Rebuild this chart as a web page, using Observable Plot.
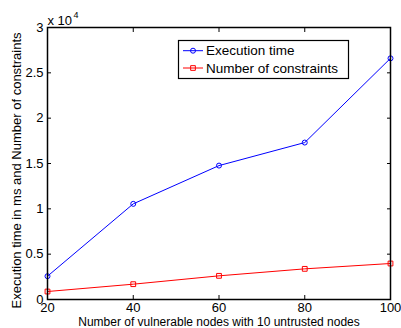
<!DOCTYPE html>
<html><head><meta charset="utf-8">
<script src="https://cdn.jsdelivr.net/npm/d3@7"></script>
<script src="https://cdn.jsdelivr.net/npm/@observablehq/plot@0.6"></script>
<style>
html,body{margin:0;padding:0;background:#fff;}
#chart svg{display:block;}
</style></head><body><div id="chart"></div>
<script>
const nodes = [20, 40, 60, 80, 100];
const executionTime = [2570, 10550, 14770, 17310, 26600];
const numConstraints = [880, 1690, 2610, 3380, 3970];
const xTicks = [20, 40, 60, 80, 100];
const yTicks = [0, 5000, 10000, 15000, 20000, 25000, 30000];
const seriesNames = ["Execution time", "Number of constraints"];
const seriesColors = ["#0000ff", "#ff0000"];
const seriesSymbols = ["circle", "square"];
const xLabel = "Number of vulnerable nodes with 10 untrusted nodes";
const yLabel = "Execution time in ms and Number of constraints";
const exponentBase = "x 10";
const exponent = "4";

const exec = nodes.map((x, i) => ({x, y: executionTime[i]}));
const cons = nodes.map((x, i) => ({x, y: numConstraints[i]}));
const font = "'Liberation Sans', Arial, Helvetica, sans-serif";

const plot = Plot.plot({
  width: 401, height: 328,
  marginLeft: 47, marginRight: 11, marginTop: 27, marginBottom: 29,
  style: {fontFamily: font, fontSize: "13px", background: "#fff", color: "#000"},
  x: {domain: [20, 100]},
  y: {domain: [0, 30000]},
  marks: [
    Plot.axisX({ticks: xTicks, tickSize: 0, tickPadding: 3, label: null, fontSize: 13}),
    Plot.axisX({ticks: xTicks, tickSize: -4, text: null, label: null}),
    Plot.axisX({anchor: "top", ticks: xTicks, tickSize: -4, text: null, label: null}),
    Plot.axisY({ticks: yTicks, tickSize: 0, tickPadding: 4, tickFormat: d => String(d / 10000), label: null, fontSize: 13}),
    Plot.axisY({ticks: yTicks, tickSize: -4, text: null, label: null}),
    Plot.axisY({anchor: "right", ticks: yTicks, tickSize: -4, text: null, label: null}),
    Plot.line(exec, {x: "x", y: "y", stroke: seriesColors[0], strokeWidth: 1}),
    Plot.dot(exec, {x: "x", y: "y", stroke: seriesColors[0], symbol: seriesSymbols[0], r: 2.5, strokeWidth: 1}),
    Plot.line(cons, {x: "x", y: "y", stroke: seriesColors[1], strokeWidth: 1}),
    Plot.dot(cons, {x: "x", y: "y", stroke: seriesColors[1], symbol: seriesSymbols[1], r: 2.7, strokeWidth: 1}),
    Plot.frame({stroke: "#000", strokeWidth: 1.5}),
    Plot.text([yLabel], {text: d => d, frameAnchor: "left", textAnchor: "middle", lineAnchor: "middle", rotate: -90, dx: -31, dy: 7, fontSize: 13}),
    Plot.text([xLabel], {text: d => d, frameAnchor: "bottom", textAnchor: "middle", lineAnchor: "bottom", dy: 26.5, fontSize: 12}),
    Plot.text([exponentBase], {text: d => d, frameAnchor: "top-left", textAnchor: "start", lineAnchor: "bottom", dy: -3, fontSize: 13}),
    Plot.text([exponent], {text: d => d, frameAnchor: "top-left", textAnchor: "start", lineAnchor: "bottom", dx: 26, dy: -10, fontSize: 9})
  ]
});

// Legend inside the axes (MATLAB style)
const svg = d3.select(plot);
const lg = svg.append("g").attr("font-family", font).attr("font-size", 13.5).attr("text-anchor", "start");
lg.append("rect").attr("x", 178.5).attr("y", 40.5).attr("width", 170).attr("height", 38)
  .attr("fill", "#fff").attr("stroke", "#000").attr("stroke-width", 1.2);
const rowY = [50.7, 68];
seriesNames.forEach((name, i) => {
  const y = rowY[i];
  lg.append("line").attr("x1", 183).attr("x2", 203).attr("y1", y).attr("y2", y)
    .attr("stroke", seriesColors[i]).attr("stroke-width", 1);
  lg.append("path").attr("transform", `translate(193,${y})`)
    .attr("d", d3.symbol(i === 0 ? d3.symbolCircle : d3.symbolSquare, i === 0 ? Math.PI * 2.5 * 2.5 : 22)())
    .attr("fill", "none").attr("stroke", seriesColors[i]).attr("stroke-width", 1);
  lg.append("text").attr("x", 206).attr("y", y).attr("dy", "0.35em").attr("text-anchor", "start").attr("fill", "#000").text(name);
});

document.getElementById("chart").appendChild(plot);
</script>
</body></html>
